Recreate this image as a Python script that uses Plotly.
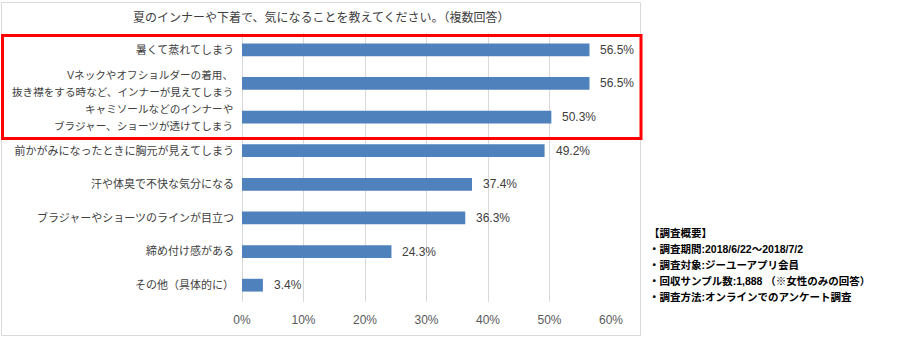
import plotly.graph_objects as go

categories = [
    "暑くて蒸れてしまう",
    "Vネックやオフショルダーの着用、\n抜き襟をする時など、インナーが見えてしまう",
    "キャミソールなどのインナーや\nブラジャー、ショーツが透けてしまう",
    "前かがみになったときに胸元が見えてしまう",
    "汗や体臭で不快な気分になる",
    "ブラジャーやショーツのラインが目立つ",
    "締め付け感がある",
    "その他（具体的に）",
]
values = [56.5, 56.5, 50.3, 49.2, 37.4, 36.3, 24.3, 3.4]
x_ticks = [0, 10, 20, 30, 40, 50, 60]
x_tick_labels = ["0%", "10%", "20%", "30%", "40%", "50%", "60%"]
title_text = "夏のインナーや下着で、気になることを教えてください。（複数回答）"
note_lines = [
    "【調査概要】",
    "・調査期間:2018/6/22～2018/7/2",
    "・調査対象:ジーユーアプリ会員",
    "・回収サンプル数:1,888 （※女性のみの回答）",
    "・調査方法:オンラインでのアンケート調査",
]

W, H = 902, 341
L, R, T, B = 242, 291, 33, 39
PW, PH = W - L - R, H - T - B

def px(x):
    return (x - L) / PW

def py(y):
    return (H - B - y) / PH

FONT = "Liberation Sans, Noto Sans CJK JP, sans-serif"
LABEL_FONT = dict(size=11, color="#404040", family=FONT)

fig = go.Figure(go.Bar(
    x=values, y=categories, orientation="h",
    marker=dict(color="#4F81BD", line=dict(width=0)),
    width=0.38, hoverinfo="skip",
))

annotations = []
tick_text = []
for c, v in zip(categories, values):
    annotations.append(dict(
        x=v, y=c, xref="x", yref="y", text=f"{v:.1f}%", showarrow=False,
        xanchor="left", yanchor="middle", xshift=9,
        font=dict(size=12, color="#404040", family=FONT),
    ))
    parts = c.split("\n")
    if len(parts) == 1:
        tick_text.append(c)
    else:
        tick_text.append("")
        n = len(parts)
        for k, part in enumerate(parts):
            annotations.append(dict(
                x=0, y=c, xref="paper", yref="y", text=part, showarrow=False,
                xanchor="right", yanchor="middle", xshift=-7,
                yshift=(n - 1) * 8.5 - 17 * k,
                font=dict(size=10.6, color="#404040", family=FONT),
            ))

annotations.append(dict(
    x=px(321), y=py(17), xref="paper", yref="paper", text=title_text,
    showarrow=False, xanchor="center", yanchor="middle",
    font=dict(size=12, color="#404040", family=FONT),
))

for i, line in enumerate(note_lines):
    annotations.append(dict(
        x=px(647), y=py(233 + 16 * i), xref="paper", yref="paper", text=line,
        showarrow=False, xanchor="left", yanchor="middle",
        font=dict(size=10.5, color="#000000", family=FONT, weight="bold"),
    ))

shapes = [
    dict(type="rect", xref="paper", yref="paper",
         x0=px(1.5), x1=px(640.5), y0=py(335.5), y1=py(2.5),
         line=dict(color="#D9D9D9", width=1), layer="below"),
    dict(type="rect", xref="paper", yref="paper",
         x0=px(2.5), x1=px(641), y0=py(138.5), y1=py(35.5),
         line=dict(color="#FF0000", width=3), layer="above"),
]

fig.update_layout(
    width=W, height=H,
    margin=dict(l=L, r=R, t=T, b=B, autoexpand=False),
    paper_bgcolor="white", plot_bgcolor="white",
    showlegend=False,
    annotations=annotations, shapes=shapes,
    font=dict(family=FONT),
    xaxis=dict(
        range=[0, 60], tickvals=x_ticks, ticktext=x_tick_labels,
        showgrid=True, gridcolor="#D9D9D9", gridwidth=1,
        zeroline=True, zerolinecolor="#D9D9D9", zerolinewidth=1,
        showline=False, ticks="", ticklabelstandoff=9,
        tickfont=dict(size=12, color="#595959", family=FONT),
        fixedrange=True,
    ),
    yaxis=dict(
        autorange="reversed", showgrid=False, zeroline=False, showline=False,
        tickvals=categories, ticktext=tick_text,
        ticks="", ticklabelstandoff=7,
        tickfont=LABEL_FONT,
        fixedrange=True,
    ),
)

fig.write_html("out.html", config={"displayModeBar": False})
